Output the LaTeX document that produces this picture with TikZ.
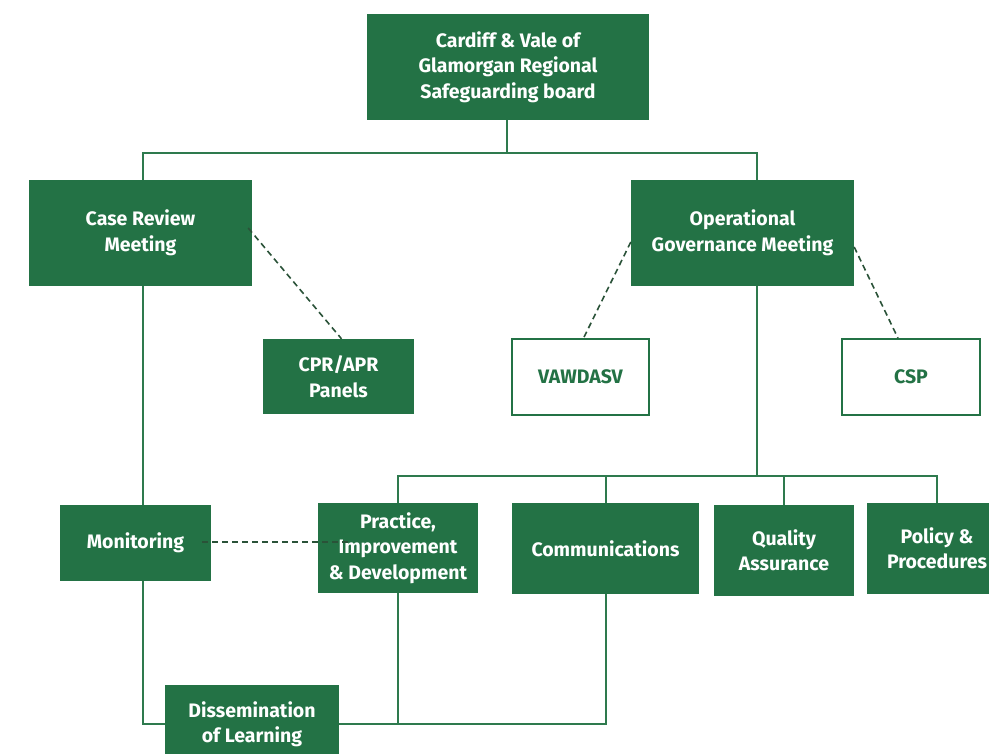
\documentclass[tikz,border=0pt]{standalone}
\usepackage{fontspec}
\setmainfont{Fira Sans}
\usetikzlibrary{calc}
\definecolor{boxgreen}{HTML}{237245}
\definecolor{linegreen}{HTML}{2E7A4E}
\definecolor{dashgreen}{HTML}{2A5238}
\begin{document}
\begin{tikzpicture}[x=1pt,y=-1pt,
  box/.style={fill=boxgreen,text=white,font=\fontsize{19.5}{25.5}\selectfont\bfseries,align=center,inner sep=0pt},
  obox/.style={fill=white,draw=boxgreen,line width=1.6pt,text=boxgreen,font=\fontsize{19.5}{25.5}\selectfont\bfseries,align=center,inner sep=0pt},
  conn/.style={draw=linegreen,line width=1.6pt},
  dconn/.style={draw=dashgreen,line width=1.6pt,dash pattern=on 6pt off 4pt}]
\useasboundingbox (0,0) rectangle (989,754);
\clip (0,0) rectangle (989,754);
\coordinate (j1) at (507,153);
\coordinate (jcase) at (143,153);
\coordinate (jop) at (757,153);
\coordinate (j2) at (757,476);
\coordinate (jprac) at (398,476);
\coordinate (jcomm) at (606,476);
\coordinate (jqual) at (784,476);
\coordinate (jpol) at (937,476);
\coordinate (jm) at (143,724);
\coordinate (jc) at (606,724);
\coordinate (jp) at (398,724);

\node[box,minimum width=282pt,minimum height=106pt] (top) at (508,67) {Cardiff \& Vale of\\Glamorgan Regional\\Safeguarding board};
\node[box,minimum width=223pt,minimum height=106pt] (case) at (140.5,233) {Case Review\\Meeting};
\node[box,minimum width=223pt,minimum height=106pt] (op) at (742.5,233) {Operational\\Governance Meeting};
\node[box,minimum width=151pt,minimum height=75pt] (cpr) at (338.5,376.5) {CPR/APR\\Panels};
\node[obox,minimum width=137pt,minimum height=76pt] (vaw) at (580.5,377) {VAWDASV};
\node[obox,minimum width=138pt,minimum height=76pt] (csp) at (911,377) {CSP};
\node[box,minimum width=151pt,minimum height=76pt] (mon) at (135.5,543) {Monitoring};
\node[box,minimum width=160pt,minimum height=90pt] (prac) at (398,548) {Practice,\\Improvement\\\& Development};
\node[box,minimum width=187pt,minimum height=91pt] (comm) at (605.5,548.5) {Communications};
\node[box,minimum width=140pt,minimum height=91pt] (qual) at (784,550.5) {Quality\\Assurance};
\node[box,minimum width=140pt,minimum height=91pt] (pol) at (937,548.5) {Policy \&\\Procedures};
\node[box,minimum width=174pt,minimum height=79pt] (diss) at (252,724.5) {Dissemination\\of Learning};

\draw[conn] (top.south -| j1) -- (j1);
\draw[conn] (case.north -| jcase) -- (jcase) -- (jop) -- (op.north -| jop);
\draw[conn] (op.south -| j2) -- (j2);
\draw[conn] (prac.north -| jprac) -- (jprac) -- (jpol) -- (pol.north -| jpol);
\draw[conn] (jcomm) -- (comm.north -| jcomm);
\draw[conn] (jqual) -- (qual.north -| jqual);
\draw[conn] (case.south -| jcase) -- (mon.north -| jcase);
\draw[conn] (mon.south -| jm) -- (jm) -- (diss.west |- jm);
\draw[conn] (diss.east |- jc) -- (jc) -- (comm.south -| jc);
\draw[conn] (prac.south -| jp) -- (jp);

\draw[dconn] ($(case.east)+(-4,-5)$) -- ($(cpr.north)+(3,0)$);
\draw[dconn] ($(op.west)+(0,9)$) -- ($(vaw.north)+(3,0)$);
\draw[dconn] ($(op.east)+(0,14)$) -- ($(csp.north)+(-13,0)$);
\draw[dconn] ($(mon.east)+(-9,-1)$) -- ($(prac.west)+(30,-6)$);
\end{tikzpicture}
\end{document}
